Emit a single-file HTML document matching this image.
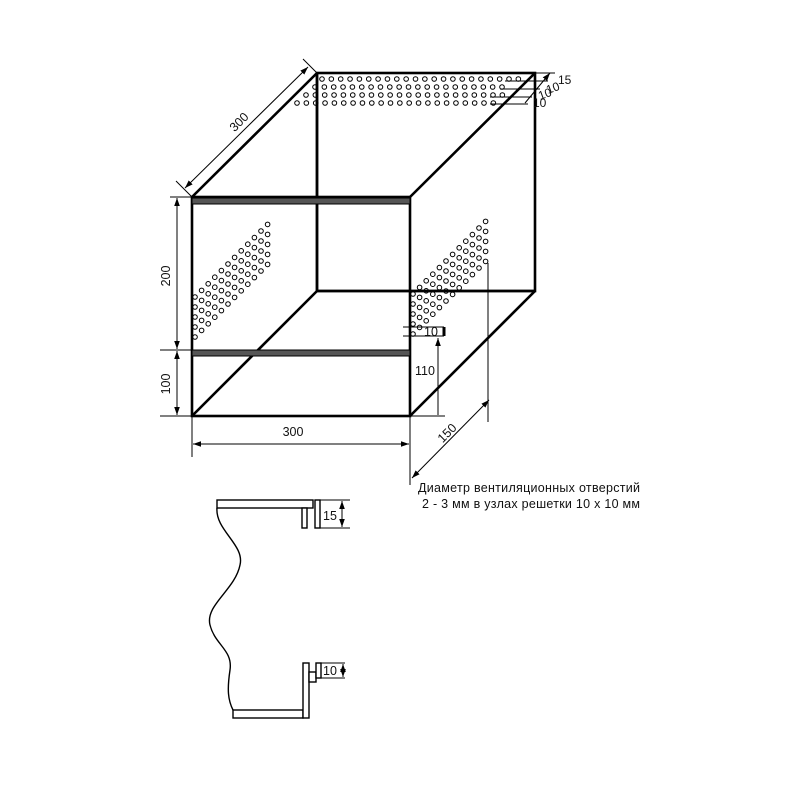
<!DOCTYPE html>
<html><head><meta charset="utf-8"><style>
html,body{margin:0;padding:0;background:#fff;width:800px;height:800px;overflow:hidden}
svg{display:block}
text{font-family:"Liberation Sans",Arial,sans-serif;fill:#111}
</style></head><body>
<svg id="s" width="800" height="800" viewBox="0 0 800 800" xmlns="http://www.w3.org/2000/svg">
<defs>
<marker id="a" viewBox="0 0 10 10" refX="10" refY="5" markerWidth="8" markerHeight="8" orient="auto-start-reverse" markerUnits="userSpaceOnUse"><path d="M0,1.5 L10,5 L0,8.5 z" fill="#000"/></marker>
</defs>
<g id="holes" fill="none" stroke="#000" stroke-width="1"></g>
<!-- cube -->
<g stroke="#000" stroke-width="2.6" fill="none">
<line x1="317" y1="73" x2="317" y2="291"/>
<line x1="317" y1="291" x2="535" y2="291"/>
<line x1="317" y1="291" x2="192" y2="416"/>
<rect x="317" y="73" width="218" height="218" fill="none"/>
<rect x="192" y="197" width="218" height="219"/>
<line x1="192" y1="197" x2="317" y2="73"/>
<line x1="410" y1="197" x2="535" y2="73"/>
<line x1="410" y1="416" x2="535" y2="291"/>
</g>
<rect x="192" y="198" width="218" height="6" fill="#555" stroke="#000" stroke-width="1"/>
<rect x="192" y="350" width="218" height="6" fill="#555" stroke="#000" stroke-width="1"/>
<!-- dims -->
<g stroke="#000" stroke-width="1" fill="none">
<line x1="177" y1="198" x2="177" y2="349" marker-start="url(#a)" marker-end="url(#a)"/>
<line x1="177" y1="351" x2="177" y2="415" marker-start="url(#a)" marker-end="url(#a)"/>
<line x1="160" y1="350" x2="192" y2="350"/>
<line x1="160" y1="416" x2="192" y2="416"/>
<line x1="170" y1="197" x2="192" y2="197"/>
<line x1="192" y1="416" x2="192" y2="457"/>
<line x1="410" y1="416" x2="410" y2="485"/>
<line x1="193" y1="444" x2="409" y2="444" marker-start="url(#a)" marker-end="url(#a)"/>
<line x1="185" y1="188" x2="308" y2="67" marker-start="url(#a)" marker-end="url(#a)"/>
<line x1="176" y1="181" x2="192" y2="197"/>
<line x1="303" y1="59" x2="317" y2="73"/>
<line x1="488" y1="263" x2="488" y2="422"/>
<line x1="412" y1="478" x2="489" y2="400" marker-start="url(#a)" marker-end="url(#a)"/>
<line x1="438" y1="338" x2="438" y2="415" marker-start="url(#a)"/>
<line x1="410" y1="416" x2="445" y2="416"/>
<line x1="403" y1="327" x2="444" y2="327"/>
<line x1="403" y1="336" x2="444" y2="336"/>
<line x1="444" y1="327" x2="444" y2="336" stroke-width="3"/>
<line x1="510" y1="73" x2="555" y2="73"/>
<line x1="505" y1="81" x2="548" y2="81"/>
<line x1="500" y1="89" x2="540" y2="89"/>
<line x1="490" y1="97" x2="532" y2="97"/>
<line x1="490" y1="104" x2="528" y2="104"/>
<line x1="525" y1="103" x2="550" y2="73" marker-end="url(#a)"/>
</g>
<text x="293" y="436" font-size="12.5" text-anchor="middle">300</text>
<text font-size="12.5" text-anchor="middle" transform="translate(242,125) rotate(-45)">300</text>
<text font-size="12.5" text-anchor="middle" transform="translate(170,276) rotate(-90)">200</text>
<text font-size="12.5" text-anchor="middle" transform="translate(170,384) rotate(-90)">100</text>
<text font-size="12.5" text-anchor="middle" transform="translate(450,436) rotate(-45)">150</text>
<text x="415" y="375" font-size="12.5">110</text>
<text x="424" y="336" font-size="12.5">10</text>
<text x="558" y="84" font-size="12">15</text>
<text font-size="12" transform="translate(548,94) rotate(-20)">10</text>
<text font-size="12" transform="translate(540,100) rotate(-20)">10</text>
<text x="533" y="107" font-size="12">10</text>
<text x="418" y="492" font-size="12.5" textLength="222">Диаметр вентиляционных отверстий</text>
<text x="422" y="508" font-size="12.5" textLength="218">2 - 3 мм в узлах решетки 10 x 10 мм</text>
<!-- bottom detail -->
<g stroke="#000" stroke-width="1.4" fill="#fff">
<rect x="217" y="500" width="96" height="8"/>
<rect x="302" y="508" width="5" height="20"/>
<rect x="315" y="500" width="5" height="28"/>
<path d="M217,508 C215,530 245,545 240,565 C235,590 205,605 210,625 C215,645 233,650 230,670 C227,690 228,700 233,710" fill="none"/>
<rect x="233" y="710" width="70" height="8"/>
<rect x="303" y="663" width="6" height="55"/>
<rect x="309" y="672" width="7" height="10"/>
<rect x="316" y="663" width="5" height="15"/>
</g>
<g stroke="#000" stroke-width="1" fill="none">
<line x1="320" y1="500" x2="350" y2="500"/>
<line x1="320" y1="528" x2="350" y2="528"/>
<line x1="342" y1="501" x2="342" y2="527" marker-start="url(#a)" marker-end="url(#a)"/>
<line x1="321" y1="663" x2="345" y2="663"/>
<line x1="321" y1="678" x2="345" y2="678"/>
<line x1="343" y1="664" x2="343" y2="677" marker-start="url(#a)" marker-end="url(#a)"/>
</g>
<text x="323" y="520" font-size="12.5">15</text>
<text x="323" y="675" font-size="12.5">10</text>
</svg>
<script>
var g=document.getElementById('holes'),ns='http://www.w3.org/2000/svg';
function c(x,y){var e=document.createElementNS(ns,'circle');e.setAttribute('cx',x);e.setAttribute('cy',y);e.setAttribute('r',2.3);g.appendChild(e);}
var rows=[[322,79],[315,87],[306,95],[297,103]];
rows.forEach(function(r,k){var end=[519,510,502,495][k];for(var x=r[0];x<=end+1;x+=9.35)c(x,r[1]);});
for(var i=0;i<=11;i++)for(var j=0;j<5;j++){c(195+6.6*i,297+10*j-6.6*i);c(413+6.6*i,294+10*j-6.6*i);}
</script>
</body></html>
